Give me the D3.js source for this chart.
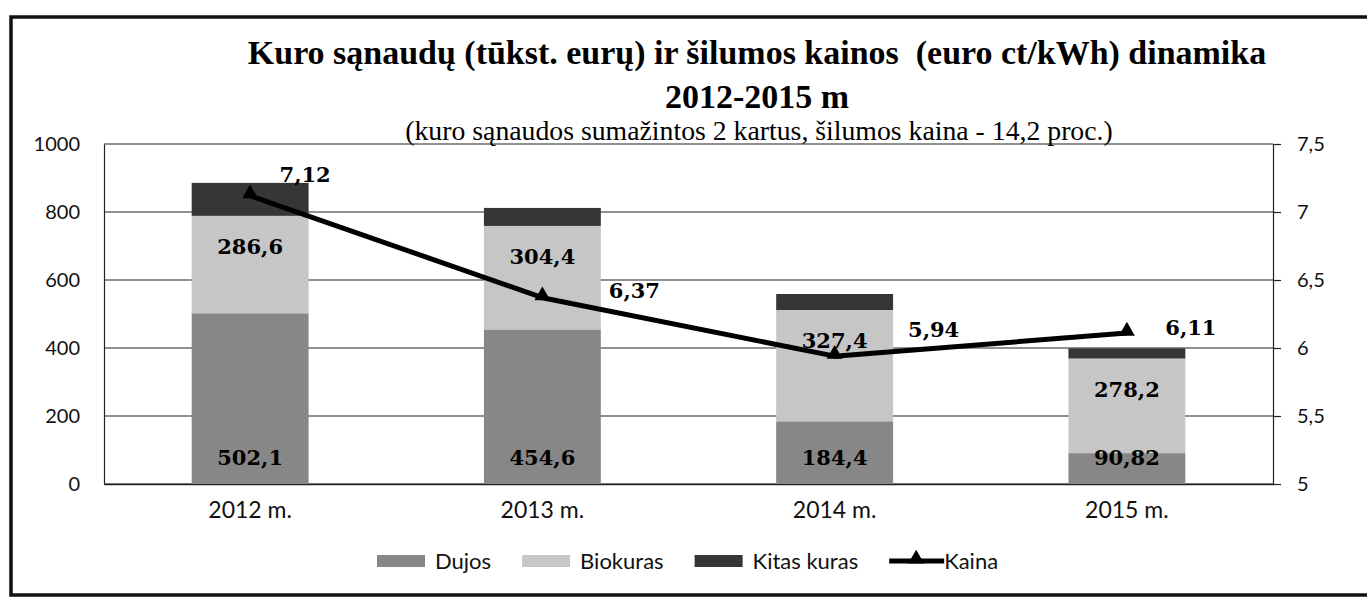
<!DOCTYPE html>
<html>
<head>
<meta charset="utf-8">
<script src="https://cdn.jsdelivr.net/npm/d3@7"></script>
<style>
  html, body { margin: 0; padding: 0; background: #ffffff; }
  svg { display: block; }
</style>
</head>
<body>
<svg id="chart" width="1367" height="599"></svg>
<script>
// ---------- DATA ----------
const categories = ["2012 m.", "2013 m.", "2014 m.", "2015 m."];
const dujos = [502.1, 454.6, 184.4, 90.82];
const biokuras = [286.6, 304.4, 327.4, 278.2];
const kitasKuras = [97, 53, 47, 30];
const kaina = [7.12, 6.37, 5.94, 6.11];
const leftTicks = [0, 200, 400, 600, 800, 1000];
const rightTicks = [5, 5.5, 6, 6.5, 7, 7.5];
const seriesNames = ["Dujos", "Biokuras", "Kitas kuras"];
const lineName = "Kaina";
const titleLine1 = "Kuro sąnaudų (tūkst. eurų) ir šilumos kainos  (euro ct/kWh) dinamika";
const titleLine2 = "2012-2015 m";
const subtitle = "(kuro sąnaudos sumažintos 2 kartus, šilumos kaina - 14,2 proc.)";

// ---------- LAYOUT / STYLE ----------
const plot = { left: 104, right: 1273, top: 144, bottom: 484 };
const colors = { "Dujos": "#878787", "Biokuras": "#c6c6c6", "Kitas kuras": "#363636" };
const sansFont = "Lato, 'Open Sans', sans-serif";
const serifFont = "'DejaVu Serif', 'Liberation Serif', serif";
const titleFont = "'Liberation Serif', 'DejaVu Serif', serif";
// manual label offsets for the Kaina labels (as placed in the original)
const kainaLabelDx = [55, 92, 99, 64];
const kainaLabelDy = [-14, 0, -19, 2];

const fmt = v => String(v).replace(".", ",");

const svg = d3.select("#chart");

// outer frame
svg.append("rect")
  .attr("x", 11).attr("y", 17)
  .attr("width", 1400).attr("height", 578)
  .attr("fill", "none").attr("stroke", "#111").attr("stroke-width", 3.5);

// scales
const x = d3.scaleBand().domain(categories)
  .range([plot.left, plot.right]).paddingInner(0.6).paddingOuter(0.3);
const yL = d3.scaleLinear().domain([0, 1000]).range([plot.bottom, plot.top]);
const yR = d3.scaleLinear().domain([5, 7.5]).range([plot.bottom, plot.top]);

// gridlines
svg.append("g").selectAll("line").data(leftTicks).join("line")
  .attr("x1", plot.left).attr("x2", plot.right)
  .attr("y1", d => yL(d)).attr("y2", d => yL(d))
  .attr("stroke", "#222").attr("stroke-width", 1.2);

// left axis
const gL = svg.append("g").attr("transform", `translate(${plot.left},0)`)
  .call(d3.axisLeft(yL).tickValues(leftTicks).tickSize(0).tickPadding(24).tickFormat(d => String(d)));
gL.select(".domain").attr("stroke", "#222").attr("stroke-width", 1.2);
gL.selectAll("text").attr("font-family", sansFont).attr("font-size", 20).attr("fill", "#111");

// right axis
const gR = svg.append("g").attr("transform", `translate(${plot.right},0)`)
  .call(d3.axisRight(yR).tickValues(rightTicks).tickSize(8).tickPadding(16).tickFormat(fmt));
gR.select(".domain").attr("stroke", "#222").attr("stroke-width", 1.2);
gR.selectAll(".tick line").attr("stroke", "#222").attr("stroke-width", 1.2);
gR.selectAll("text").attr("font-family", sansFont).attr("font-size", 20).attr("fill", "#111");

// bottom axis
const gB = svg.append("g").attr("transform", `translate(0,${plot.bottom})`)
  .call(d3.axisBottom(x).tickSize(0).tickPadding(18));
gB.select(".domain").attr("stroke", "#222").attr("stroke-width", 1.4);
gB.selectAll("text").attr("font-family", sansFont).attr("font-size", 23).attr("fill", "#111")
  .attr("dy", "0.71em");

// stacked bars
const rows = categories.map((c, i) => ({
  cat: c, "Dujos": dujos[i], "Biokuras": biokuras[i], "Kitas kuras": kitasKuras[i]
}));
const stacked = d3.stack().keys(seriesNames)(rows);
svg.append("g").selectAll("g").data(stacked).join("g")
  .attr("fill", d => colors[d.key])
  .selectAll("rect").data(d => d).join("rect")
  .attr("x", d => x(d.data.cat))
  .attr("width", x.bandwidth())
  .attr("y", d => yL(d[1]))
  .attr("height", d => yL(d[0]) - yL(d[1]));

// bar labels
const lblG = svg.append("g").attr("font-family", serifFont).attr("font-weight", "bold")
  .attr("font-size", 21).attr("fill", "#000").attr("text-anchor", "middle");
lblG.selectAll("text.dujos").data(stacked[0]).join("text").attr("class", "dujos")
  .attr("x", d => x(d.data.cat) + x.bandwidth() / 2)
  .attr("y", d => yL(d[0]) - 19)
  .text(d => fmt(d.data["Dujos"]));
lblG.selectAll("text.bio").data(stacked[1]).join("text").attr("class", "bio")
  .attr("x", d => x(d.data.cat) + x.bandwidth() / 2)
  .attr("y", d => yL(d[1]) + 38)
  .text(d => fmt(d.data["Biokuras"]));

// Kaina line
const pts = categories.map((c, i) => [x(c) + x.bandwidth() / 2, yR(kaina[i])]);
svg.append("path").datum(pts)
  .attr("d", d3.line())
  .attr("fill", "none").attr("stroke", "#000").attr("stroke-width", 5)
  .attr("stroke-linejoin", "round");
const tri = d3.symbol().type(d3.symbolTriangle).size(110);
svg.append("g").selectAll("path").data(pts).join("path")
  .attr("d", tri).attr("transform", d => `translate(${d[0]},${d[1] - 2})`).attr("fill", "#000");
svg.append("g").attr("font-family", serifFont).attr("font-weight", "bold")
  .attr("font-size", 21).attr("fill", "#000").attr("text-anchor", "middle")
  .selectAll("text").data(kaina).join("text")
  .attr("x", (d, i) => pts[i][0] + kainaLabelDx[i])
  .attr("y", (d, i) => pts[i][1] + kainaLabelDy[i])
  .text(d => fmt(d));

// titles (fit widths to original)
function fitText(sel, target) {
  const w = sel.node().getComputedTextLength();
  const fs = parseFloat(sel.attr("font-size"));
  sel.attr("font-size", fs * target / w);
  return fs * target / w;
}
const cx = 757;
const t1 = svg.append("text").attr("x", cx).attr("y", 64).attr("text-anchor", "middle")
  .attr("font-family", titleFont).attr("font-weight", "bold").attr("font-size", 26)
  .attr("fill", "#000").style("white-space", "pre").text(titleLine1);
const fs1 = fitText(t1, 1019);
svg.append("text").attr("x", cx).attr("y", 108).attr("text-anchor", "middle")
  .attr("font-family", titleFont).attr("font-weight", "bold").attr("font-size", fs1)
  .attr("fill", "#000").text(titleLine2);
const st = svg.append("text").attr("x", cx + 2).attr("y", 140).attr("text-anchor", "middle")
  .attr("font-family", titleFont).attr("font-size", 20)
  .attr("fill", "#000").text(subtitle);
fitText(st, 708);

// legend
const legG = svg.append("g").attr("font-family", sansFont).attr("font-size", 22).attr("fill", "#111");
let lx = 377;
const ly = 561;
seriesNames.forEach(name => {
  legG.append("rect").attr("x", lx).attr("y", ly - 6).attr("width", 48).attr("height", 12)
    .attr("fill", colors[name]);
  const t = legG.append("text").attr("x", lx + 58).attr("y", ly + 8).text(name);
  lx += 58 + t.node().getComputedTextLength() + 31;
});
legG.append("line").attr("x1", lx).attr("x2", lx + 55).attr("y1", ly).attr("y2", ly)
  .attr("stroke", "#000").attr("stroke-width", 5);
legG.append("path").attr("d", tri).attr("transform", `translate(${lx + 27},${ly - 2})`).attr("fill", "#000");
legG.append("text").attr("x", lx + 55).attr("y", ly + 8).text(lineName);
</script>
</body>
</html>
